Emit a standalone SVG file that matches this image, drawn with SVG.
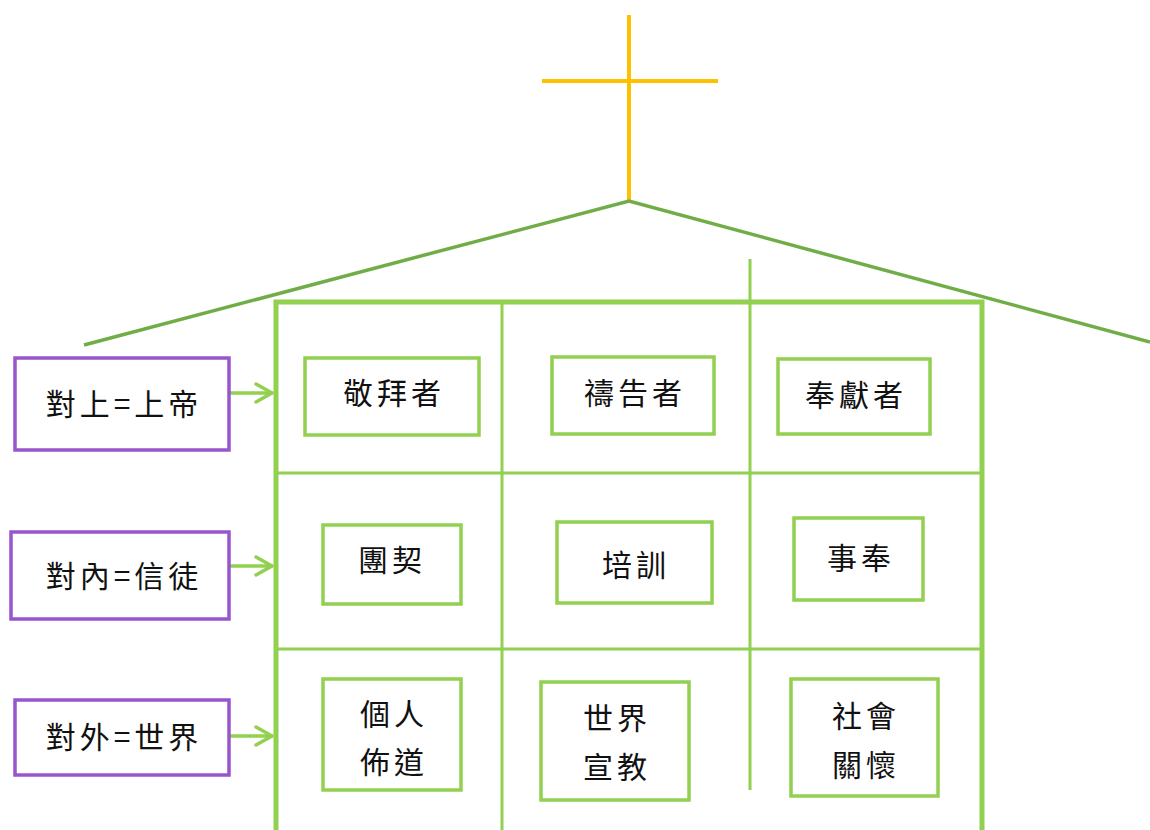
<svg xmlns="http://www.w3.org/2000/svg" width="1150" height="830" viewBox="0 0 1150 830">
<defs>
<style>
.frame{fill:none;stroke:#92D050;stroke-width:5}
.grid{fill:none;stroke:#92D050;stroke-width:3}
.box{fill:#fff;stroke:#92D050;stroke-width:3.5}
.pbox{fill:#fff;stroke:#9955CC;stroke-width:3.5}
.roof{fill:none;stroke:#70AD47;stroke-width:3.5}
.cross{fill:none;stroke:#FFC000;stroke-width:4}
.conn{fill:none;stroke:#92D050;stroke-width:3.5}
.t{font-family:"Noto Sans CJK TC","Noto Sans CJK SC",sans-serif;font-size:30px;fill:#111;text-anchor:middle;letter-spacing:4px}
</style>
<marker id="arr" viewBox="0 0 20 22" refX="19" refY="11" markerWidth="20" markerHeight="22" markerUnits="userSpaceOnUse" orient="auto">
<path d="M2,2 L18,11 L2,20" fill="none" stroke="#92D050" stroke-width="3.5" stroke-linecap="round" stroke-linejoin="round"/>
</marker>
</defs>
<g id="cross">
<line class="cross" x1="629" y1="15" x2="629" y2="200"/>
<line class="cross" x1="542" y1="81" x2="718" y2="81"/>
</g>
<g id="roof">
<polyline class="roof" points="84,345 629,201 1150,342"/>
</g>
<g id="house">
<line class="grid" x1="750" y1="259" x2="750" y2="790"/>
<line class="grid" x1="502" y1="302" x2="502" y2="830"/>
<line class="grid" x1="276" y1="473" x2="982" y2="473"/>
<line class="grid" x1="276" y1="649" x2="982" y2="649"/>
<polyline class="frame" points="276,832 276,302 982,302 982,832"/>
</g>
<g id="connectors">
<line class="conn" x1="230" y1="393" x2="273" y2="393" marker-end="url(#arr)"/>
<line class="conn" x1="230" y1="566" x2="273" y2="566" marker-end="url(#arr)"/>
<line class="conn" x1="230" y1="736" x2="273" y2="736" marker-end="url(#arr)"/>
</g>
<g id="n-up">
<rect class="pbox" x="15" y="358" width="214" height="92"/>
<text class="t" x="124" y="415">對上=上帝</text>
</g>
<g id="n-in">
<rect class="pbox" x="11" y="532" width="218" height="87"/>
<text class="t" x="124" y="587">對內=信徒</text>
</g>
<g id="n-out">
<rect class="pbox" x="15" y="700" width="214" height="75"/>
<text class="t" x="124" y="748">對外=世界</text>
</g>
<g id="n1">
<rect class="box" x="305" y="358" width="174" height="77"/>
<text class="t" x="394" y="404">敬拜者</text>
</g>
<g id="n2">
<rect class="box" x="552" y="357" width="162" height="77"/>
<text class="t" x="635" y="404">禱告者</text>
</g>
<g id="n3">
<rect class="box" x="778" y="359" width="152" height="75"/>
<text class="t" x="856" y="406">奉獻者</text>
</g>
<g id="n4">
<rect class="box" x="323" y="525" width="138" height="79"/>
<text class="t" x="392" y="571">團契</text>
</g>
<g id="n5">
<rect class="box" x="557" y="522" width="155" height="81"/>
<text class="t" x="636" y="576">培訓</text>
</g>
<g id="n6">
<rect class="box" x="794" y="518" width="129" height="82"/>
<text class="t" x="861" y="569">事奉</text>
</g>
<g id="n7">
<rect class="box" x="323" y="679" width="138" height="111"/>
<text class="t" x="394" y="725">個人</text>
<text class="t" x="394" y="773">佈道</text>
</g>
<g id="n8">
<rect class="box" x="541" y="682" width="148" height="118"/>
<text class="t" x="617" y="729">世界</text>
<text class="t" x="617" y="778">宣教</text>
</g>
<g id="n9">
<rect class="box" x="791" y="679" width="147" height="117"/>
<text class="t" x="866" y="727">社會</text>
<text class="t" x="866" y="776">關懷</text>
</g>
</svg>
